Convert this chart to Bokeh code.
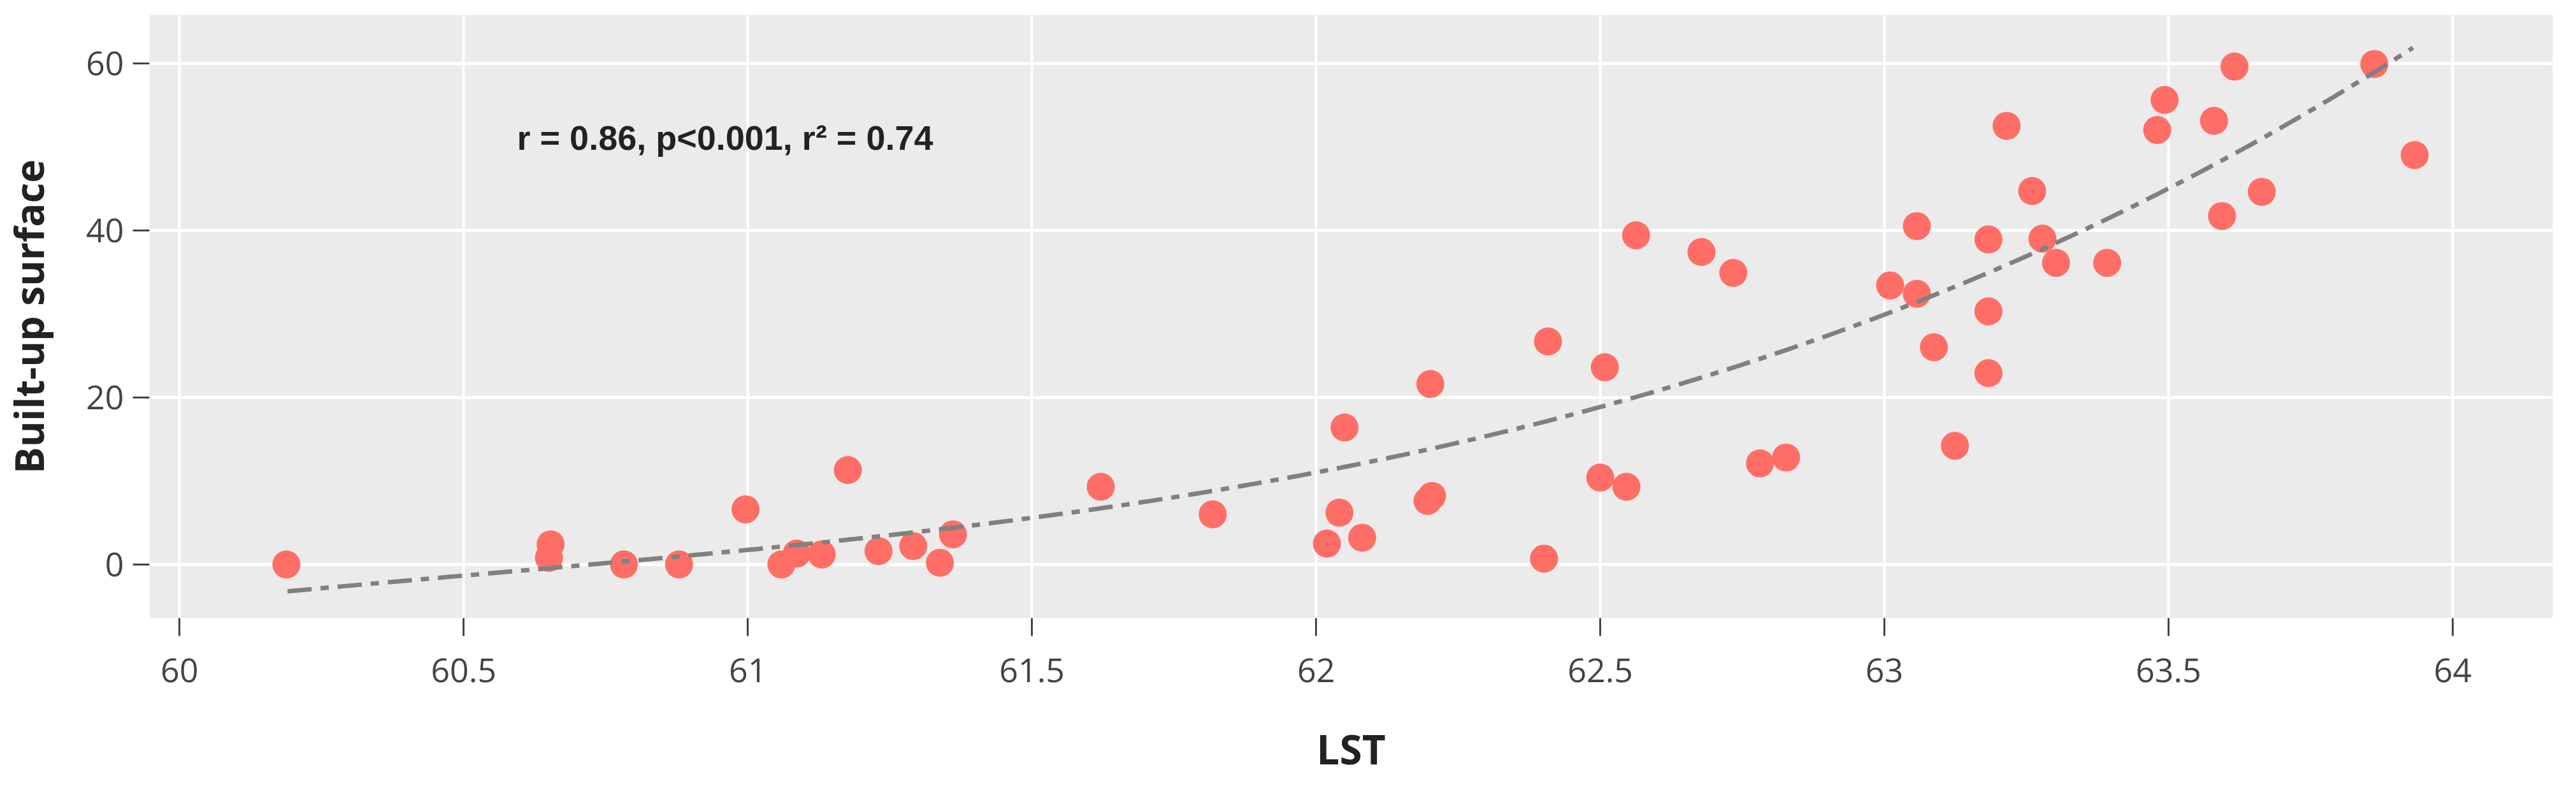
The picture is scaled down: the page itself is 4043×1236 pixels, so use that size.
import numpy as np
from bokeh.plotting import figure
from bokeh.models import FixedTicker, NumeralTickFormatter, Range1d
from bokeh.core.properties import value
from bokeh.embed import file_html
from bokeh.resources import INLINE

# ---- data ----
lst = [60.188, 60.653, 60.650, 60.782, 60.879, 60.996,
       61.059, 61.086, 61.130, 61.176, 61.230, 61.291, 61.338, 61.361,
       61.621, 61.818, 62.019, 62.041, 62.050, 62.081,
       62.196, 62.204, 62.201, 62.401, 62.408, 62.500, 62.508, 62.546, 62.563,
       62.678, 62.734, 62.781, 62.827, 63.010, 63.057, 63.057, 63.087, 63.124,
       63.183, 63.183, 63.183, 63.215, 63.260, 63.278, 63.302, 63.392,
       63.480, 63.493, 63.580, 63.594, 63.616, 63.664, 63.862, 63.933]
built_up = [0.0, 2.4, 0.8, 0.0, 0.0, 6.6,
            0.0, 1.3, 1.2, 11.3, 1.6, 2.2, 0.2, 3.6,
            9.3, 6.0, 2.5, 6.2, 16.4, 3.2,
            7.6, 8.2, 21.6, 0.7, 26.7, 10.4, 23.6, 9.3, 39.4,
            37.4, 34.9, 12.1, 12.8, 33.4, 40.5, 32.4, 26.0, 14.2,
            38.9, 30.3, 22.9, 52.5, 44.7, 39.0, 36.1, 36.1,
            52.0, 55.6, 53.1, 41.7, 59.6, 44.6, 59.9, 49.0]

# trend line
trend_x = [60.19, 60.5, 61.0, 61.5, 62.0, 62.5, 63.0, 63.5, 63.93]
trend_y = [-2.9, -1.7, 1.5, 5.7, 11.4, 18.8, 29.9, 44.6, 62.1]

x_ticks = [60, 60.5, 61, 61.5, 62, 62.5, 63, 63.5, 64]
y_ticks = [0, 20, 40, 60]
x_title = "LST"
y_title = "Built-up surface"
stats_text = "r = 0.86, p<0.001, r\u00b2 = 0.74"

# smooth cubic through the read trend points
coef = np.polyfit(trend_x, trend_y, 3)
fit_x = np.linspace(trend_x[0], trend_x[-1], 300)
fit_y = np.polyval(coef, fit_x)

p = figure(width=4027, height=1220, output_backend="svg", toolbar_location=None,
           x_range=Range1d(59.947, 64.176), y_range=Range1d(-6.42, 65.77),
           min_border_left=230, min_border_right=21, min_border_top=23, min_border_bottom=247)

p.background_fill_color = "#EBEBEB"
p.border_fill_color = "white"
p.outline_line_color = None

p.xgrid.grid_line_color = "white"
p.ygrid.grid_line_color = "white"
p.xgrid.grid_line_width = 4
p.ygrid.grid_line_width = 5

p.xaxis.ticker = FixedTicker(ticks=x_ticks)
p.yaxis.ticker = FixedTicker(ticks=y_ticks)
p.xaxis.formatter = NumeralTickFormatter(format="0.[0]")
p.yaxis.formatter = NumeralTickFormatter(format="0")

for ax in (p.xaxis, p.yaxis):
    ax.axis_line_color = None
    ax.major_tick_line_color = "#444444"
    ax.major_tick_line_width = 3
    ax.major_tick_in = 0
    ax.minor_tick_line_color = None
    ax.major_label_text_font = "Open Sans"
    ax.major_label_text_font_size = "52px"
    ax.major_label_text_color = "#444444"
    ax.axis_label_text_font = "Open Sans"
    ax.axis_label_text_font_style = "bold"
    ax.axis_label_text_color = "#222222"

p.xaxis.major_tick_out = 28
p.yaxis.major_tick_out = 26
p.xaxis.major_label_standoff = 35
p.yaxis.major_label_standoff = 14
p.xaxis.axis_label = x_title
p.yaxis.axis_label = y_title
p.xaxis.axis_label_text_font_size = "64px"
p.yaxis.axis_label_text_font_size = "62px"
p.xaxis.axis_label_standoff = 58
p.yaxis.axis_label_standoff = 45

p.scatter(lst, built_up, size=44, fill_color="#FF6E66", line_color=None)

p.line(fit_x, fit_y, line_color="#808080", line_width=7, line_dash="38 14 13 14")

p.text(x=[60.96], y=[51.1], text=[stats_text], text_font=value("Liberation Sans"),
       text_font_style="bold", text_font_size="54px", text_color="#222222",
       text_align="center", text_baseline="middle")

open("out.html", "w").write(file_html(p, INLINE))
